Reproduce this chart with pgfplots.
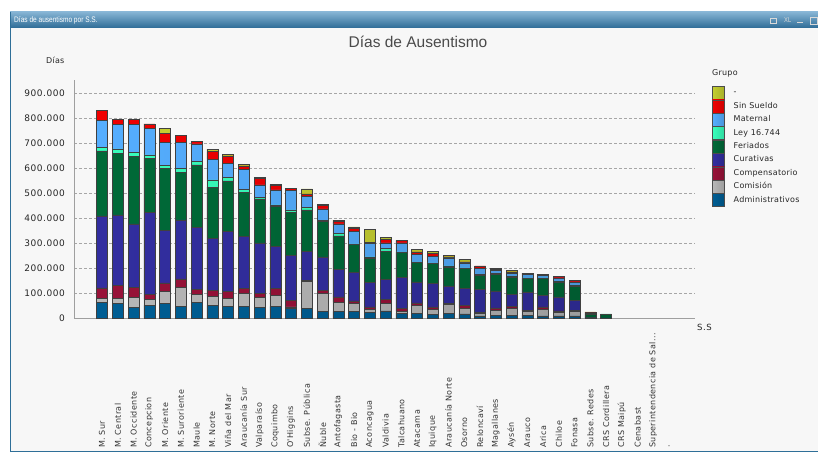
\documentclass[border=0pt]{standalone}
\usepackage{pgfplots}
\pgfplotsset{compat=1.18}
\usepackage{pgfplotstable}
\usepackage{fontspec}
\setmainfont{DejaVu Sans}
\newfontfamily\tickfont{DejaVu Sans}[LetterSpace=6]
\newfontfamily\labfont{DejaVu Sans}[LetterSpace=5]
\newfontfamily\legfont{DejaVu Sans}[LetterSpace=3]
\newfontfamily\arialfont{Liberation Sans}
\newfontfamily\narrowfont{Liberation Sans}[FakeStretch=0.82]

\definecolor{cDash}{HTML}{C4CE30}
\definecolor{cSin}{HTML}{F00000}
\definecolor{cMat}{HTML}{55AEFF}
\definecolor{cLey}{HTML}{38FFBC}
\definecolor{cFer}{HTML}{006A38}
\definecolor{cCur}{HTML}{322EA0}
\definecolor{cCmp}{HTML}{981238}
\definecolor{cCom}{HTML}{B8B8B8}
\definecolor{cAdm}{HTML}{005E94}
\definecolor{bgc}{HTML}{F7F7F7}
\definecolor{framec}{HTML}{2F6F98}
\definecolor{tbtop}{HTML}{86B4D4}
\definecolor{tbbot}{HTML}{2E6C96}
\definecolor{titlec}{HTML}{4A4A4A}

\pgfplotstableread{
i adm com cmp cur fer ley mat sin dash
0 63000 16000 42000 287000 260000 13000 108000 40000 0
1 59000 20000 53000 280000 247000 17000 99000 20000 0
2 44000 39000 41000 252000 269000 16000 114000 18000 0
3 51000 24000 20000 326000 218000 13000 107000 17000 0
4 59000 49000 33000 211000 247000 10000 92000 38000 18000
5 48000 76000 33000 235000 189000 18000 102000 30000 0
6 63000 33000 19000 246000 251000 13000 71000 11000 0
7 51000 37000 24000 207000 204000 29000 83000 30000 10000
8 48000 31000 29000 240000 200000 15000 56000 29000 7000
9 48000 51000 20000 209000 173000 14000 80000 13000 7000
10 43000 40000 16000 202000 175000 7000 49000 27000 4000
11 47000 45000 27000 169000 157000 7000 60000 17000 6000
12 39000 6000 27000 180000 169000 11000 77000 10000 0
13 40000 108000 2000 118000 164000 11000 42000 11000 20000
14 28000 71000 13000 133000 140000 4000 47000 13000 6000
15 27000 36000 22000 111000 133000 10000 37000 9000 6000
16 27000 32000 10000 114000 112000 2000 51000 11000 5000
17 23000 12000 10000 98000 98000 4000 54000 4000 53000
18 29000 30000 16000 80000 113000 11000 22000 15000 8000
19 20000 7000 12000 124000 100000 2000 36000 10000 0
20 20000 32000 9000 84000 78000 2000 31000 9000 11000
21 16000 20000 9000 94000 80000 2000 27000 11000 9000
22 19000 36000 4000 70000 76000 4000 32000 4000 7000
23 17000 22000 13000 67000 80000 2000 20000 4000 10000
24 9000 10000 4000 92000 57000 3000 24000 10000 0
25 12000 20000 9000 68000 67000 3000 13000 3000 4000
26 12000 27000 9000 48000 69000 3000 11000 6000 7000
27 12000 16000 4000 73000 54000 2000 14000 4000 0
28 9000 27000 9000 47000 67000 2000 11000 4000 0
29 9000 14000 6000 56000 60000 3000 13000 7000 0
30 9000 19000 4000 40000 57000 3000 13000 6000 0
31 1000 0 0 2000 14000 0 2000 2000 4000
32 0 0 0 1000 14000 2000 0 0 0
}\datatable

\pgfplotsset{gbar/.style={left color=#1, middle color=#1!72!white, right color=#1!85!black}}

\begin{document}
\begin{tikzpicture}
\useasboundingbox (0pt,0pt) rectangle (818pt,455pt);
\fill[white] (0pt,0pt) rectangle (818pt,455pt);
\fill[bgc] (10pt,3pt) rectangle (818pt,443pt);
\shade[top color=tbtop, bottom color=tbbot] (10pt,427pt) rectangle (818pt,443pt);
\draw[framec, line width=1pt] (10.5pt,3pt) -- (10.5pt,443pt);
\draw[framec, line width=1.2pt] (10pt,3.5pt) -- (818pt,3.5pt);
\node[anchor=west, text=white, font=\narrowfont\fontsize{8}{9}\selectfont, inner sep=0pt] at (14pt,435pt) {Días de ausentismo por S.S.};
\node[anchor=west, text=white!85!black, font=\narrowfont\fontsize{7}{8}\selectfont, inner sep=0pt] at (784pt,435pt) {XL};
\draw[white!85!black, line width=0.8pt] (770pt,432pt) rectangle (776pt,437pt);
\draw[white!85!black, line width=1pt] (797pt,432pt) -- (803pt,432pt);
\draw[white!85!black, line width=0.8pt] (810pt,431pt) rectangle (817pt,438pt);
\node[font=\arialfont\fontsize{15.5}{18}\selectfont, text=titlec] at (418pt,413pt) {Días de Ausentismo};
\node[font=\legfont\fontsize{8}{9}\selectfont, anchor=west, inner sep=0pt, text=black!85] at (46pt,395pt) {Días};
\node[font=\tickfont\fontsize{8.5}{9}\selectfont, anchor=west, inner sep=0pt, text=black!85] at (697pt,128pt) {S.S};
\node[font=\legfont\fontsize{8}{9}\selectfont, anchor=west, inner sep=0pt, text=black!85] at (712pt,382pt) {Grupo};
\begin{axis}[
  at={(74pt,137pt)}, anchor=south west, scale only axis,
  width=621pt, height=237.5pt,
  ybar stacked, bar width=11pt,
  xmin=-1.78, xmax=37.65, ymin=0, ymax=950000,
  scaled y ticks=false,
  axis lines*=left,
  axis line style={draw=gray!75, line width=0.8pt},
  xtick={0,1,2,3,4,5,6,7,8,9,10,11,12,13,14,15,16,17,18,19,20,21,22,23,24,25,26,27,28,29,30,31,32,33,34,35,36},
  xticklabels={M. Sur,M. Central,M. Occidente,Concepcion,M. Oriente,M. Suroriente,Maule,M. Norte,Viña del Mar,Araucanía Sur,Valparaíso,Coquimbo,O'Higgins,Subse. Pública,Ñuble,Antofagasta,Bio - Bio,Aconcagua,Valdivia,Talcahuano,Atacama,Iquique,Araucanía Norte,Osorno,Reloncaví,Magallanes,Aysén,Arauco,Arica,Chiloe,Fonasa,Subse. Redes,CRS Cordillera,CRS Maipú,Cenabast,{Superintendencia de Sal{.}{.}{.}},{{.}}},
  xticklabel style={rotate=90, anchor=west, font=\labfont\fontsize{8}{9}\selectfont, text=black!80, inner sep=0pt},
  xticklabel shift=130pt,
  ytick={0,100000,200000,300000,400000,500000,600000,700000,800000,900000},
  yticklabels={0,100.000,200.000,300.000,400.000,500.000,600.000,700.000,800.000,900.000},
  yticklabel style={font=\tickfont\fontsize{9}{10}\selectfont, text=black!85, inner sep=0pt},
  yticklabel shift=9pt,
  major tick length=0pt,
  ymajorgrids, grid style={dash pattern=on 3pt off 2pt, gray!70, line width=0.8pt},
  reverse legend,
  legend cell align=left,
  legend style={at={(1.0274,0.9768)}, anchor=north west, draw=none, fill=none, inner sep=0pt, row sep=0pt,
    font=\legfont\fontsize{8}{9}\selectfont, text=black!85,
    nodes={inner ysep=0pt, inner xsep=0pt, text height=8.5pt, text depth=4.5pt}},
  legend image code/.code={\draw[#1, draw=gray!60!black, line width=0.4pt] (0pt,-6.5pt) rectangle (12pt,6.5pt); \path (21pt,0pt);},
  every axis plot/.append style={draw=black!75, line width=0.5pt},
  clip=false,
]
\addplot[gbar=cAdm] table[x=i,y=adm]{\datatable}; \addlegendentry{Administrativos}
\addplot[gbar=cCom] table[x=i,y=com]{\datatable}; \addlegendentry{Comisión}
\addplot[gbar=cCmp] table[x=i,y=cmp]{\datatable}; \addlegendentry{Compensatorio}
\addplot[gbar=cCur] table[x=i,y=cur]{\datatable}; \addlegendentry{Curativas}
\addplot[gbar=cFer] table[x=i,y=fer]{\datatable}; \addlegendentry{Feriados}
\addplot[gbar=cLey] table[x=i,y=ley]{\datatable}; \addlegendentry{Ley 16.744}
\addplot[gbar=cMat] table[x=i,y=mat]{\datatable}; \addlegendentry{Maternal}
\addplot[gbar=cSin] table[x=i,y=sin]{\datatable}; \addlegendentry{Sin Sueldo}
\addplot[gbar=cDash] table[x=i,y=dash]{\datatable}; \addlegendentry{-}
\end{axis}
\end{tikzpicture}
\end{document}
